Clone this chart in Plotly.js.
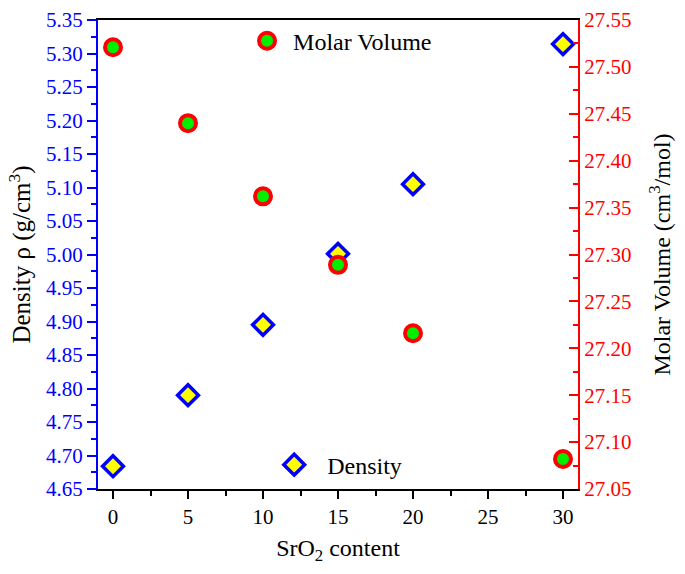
<!DOCTYPE html>
<html>
<head>
<meta charset="utf-8">
<script src="https://cdn.plot.ly/plotly-3.0.1.min.js"></script>
<style>html,body{margin:0;padding:0;background:#fff;}#chart{width:685px;height:574px;}</style>
</head>
<body>
<div id="chart"></div>
<script>
const sro2 = [0, 5, 10, 15, 20, 30];
const density = [4.684, 4.790, 4.895, 5.001, 5.105, 5.314];
const molarVolume = [27.521, 27.440, 27.362, 27.289, 27.216, 27.082];
const xTicks = [0, 5, 10, 15, 20, 25, 30];

const font = 'Liberation Serif';

const traces = [
  {
    x: sro2, y: molarVolume, yaxis: 'y2', type: 'scatter', mode: 'markers',
    name: 'Molar Volume', legend: 'legend',
    marker: {symbol: 'circle', size: 16, color: '#00ee00', line: {color: '#ff0000', width: 4}}
  },
  {
    x: sro2, y: density, yaxis: 'y', type: 'scatter', mode: 'markers',
    name: 'Density', legend: 'legend2',
    marker: {symbol: 'diamond', size: 16, color: '#ffff00', line: {color: '#0000ff', width: 3.5}}
  }
];

const layout = {
  width: 685, height: 574,
  margin: {l: 98, r: 107, t: 20, b: 85},
  paper_bgcolor: '#fff', plot_bgcolor: '#fff',
  font: {family: font, size: 21, color: '#000'},
  showlegend: true,
  xaxis: {
    range: [-1, 31], tickvals: xTicks, ticktext: xTicks.map(String),
    showgrid: false, zeroline: false,
    showline: true, linecolor: '#000', linewidth: 2, mirror: true,
    ticks: 'outside', ticklen: 8, tickwidth: 2, tickcolor: '#000',
    minor: {dtick: 2.5, tick0: 0, ticks: 'outside', ticklen: 5, tickwidth: 2, tickcolor: '#000'},
    tickfont: {family: font, size: 21, color: '#000'},
    title: {text: 'SrO<sub>2</sub> content', font: {family: font, size: 24, color: '#000'}, standoff: 11}
  },
  yaxis: {
    range: [4.65, 5.35], dtick: 0.05, tick0: 4.65, tickformat: '.2f',
    showgrid: false, zeroline: false,
    showline: true, linecolor: '#0000ff', linewidth: 2,
    ticks: 'outside', ticklen: 9, tickwidth: 2, tickcolor: '#0000ff',
    minor: {dtick: 0.025, ticks: 'outside', ticklen: 5, tickwidth: 2, tickcolor: '#0000ff'},
    tickfont: {family: font, size: 21, color: '#0000ff'},
    title: {text: 'Density ρ (g/cm<sup>3</sup>)', font: {family: font, size: 25, color: '#000'}, standoff: 8}
  },
  yaxis2: {
    overlaying: 'y', side: 'right',
    range: [27.05, 27.55], dtick: 0.05, tick0: 27.05, tickformat: '.2f',
    showgrid: false, zeroline: false,
    showline: true, linecolor: '#ff0000', linewidth: 2,
    ticks: 'inside', ticklen: 9, tickwidth: 2, tickcolor: '#ff0000',
    minor: {dtick: 0.025, ticks: 'inside', ticklen: 5, tickwidth: 2, tickcolor: '#ff0000'},
    tickfont: {family: font, size: 21, color: '#ff0000'},
    title: {text: 'Molar Volume (cm<sup>3</sup>/mol)', font: {family: font, size: 24, color: '#000'}, standoff: 23}
  },
  legend: {
    x: 0.298, y: 0.955, xanchor: 'left', yanchor: 'middle', itemwidth: 42,
    bgcolor: 'rgba(0,0,0,0)', borderwidth: 0,
    font: {family: font, size: 24, color: '#000'}
  },
  legend2: {
    x: 0.340, y: 0.051, xanchor: 'left', yanchor: 'middle', itemwidth: 56,
    bgcolor: 'rgba(0,0,0,0)', borderwidth: 0,
    font: {family: font, size: 24, color: '#000'}
  }
};

Plotly.newPlot('chart', traces, layout, {displayModeBar: false, staticPlot: true});
</script>
</body>
</html>
